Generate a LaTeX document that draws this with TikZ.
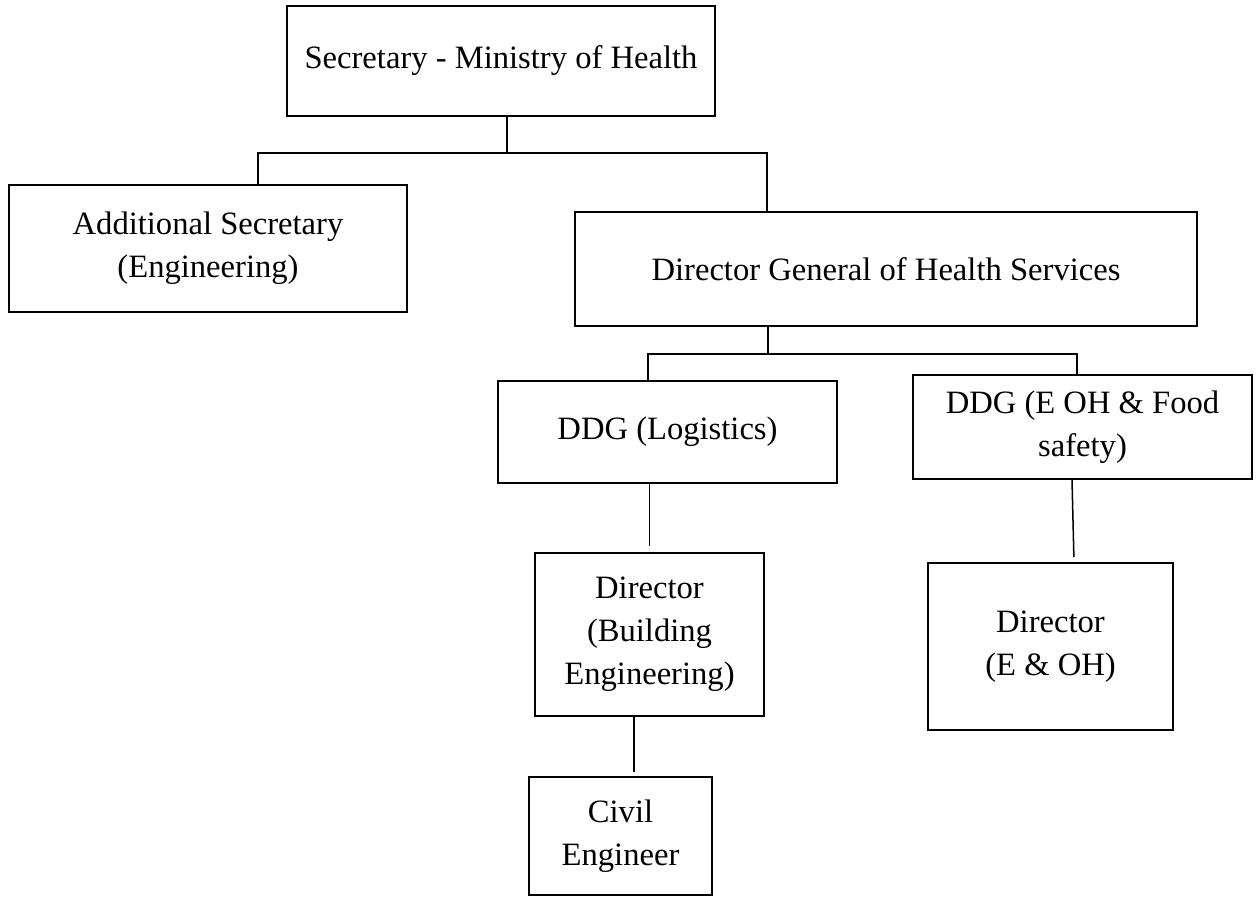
\documentclass[tikz,border=0pt]{standalone}
\usepackage{fontspec}
\setmainfont{Liberation Serif}

\begin{document}
\begin{tikzpicture}[x=0.5pt,y=-0.5pt,post/.style={draw, line width=1pt, align=center, inner sep=0pt, font=\fontsize{16.3}{21.5}\selectfont},link/.style={line width=0.75pt}]
    \useasboundingbox (0,0) rectangle (1258,897);
    \node [post, minimum width=214pt, minimum height=55pt] (sec) at (501,61) {Secretary - Ministry of Health};
    \node [post, minimum width=199pt, minimum height=63.5pt] (addl) at (208,248.5) {Additional Secretary\\(Engineering)};
    \node [post, minimum width=311pt, minimum height=57pt] (dg) at (886,269) {Director General of Health Services};
    \node [post, minimum width=169.5pt, minimum height=51pt] (ddgl) at (667.5,432) {DDG (Logistics)};
    \node [post, minimum width=169.5pt, minimum height=52pt] (ddge) at (1082.5,427) {DDG (E OH \& Food\\safety)};
    \node [post, minimum width=114.5pt, minimum height=81.5pt] (dirb) at (649.5,634.5) {Director\\(Building\\Engineering)};
    \node [post, minimum width=122.5pt, minimum height=83.5pt] (dire) at (1050.5,646.5) {Director\\(E \& OH)};
    \node [post, minimum width=91.5pt, minimum height=59pt] (civ) at (620.5,836) {Civil\\Engineer};
    \coordinate (bus1) at (507,153);
    \coordinate (bus2) at (768,354);
    \draw[link] (sec.south -| bus1) -- (bus1);
    \draw[link] ([xshift=25pt]addl.north) |- (bus1) -| ([xshift=-59.5pt]dg.north);
    \draw[link] (dg.south -| bus2) -- (bus2);
    \draw[link] ([xshift=-9.75pt]ddgl.north) |- (bus2) -| ([xshift=-2.75pt]ddge.north);
    \draw[link, shorten >=3pt] (ddgl.south -| dirb.north) -- (dirb.north);
    \draw[link, shorten >=2.5pt] ([xshift=-5.25pt]ddge.south) -- ([xshift=11.75pt]dire.north);
    \draw[link, shorten >=2pt] ([xshift=-7.75pt]dirb.south) -- ([xshift=6.75pt]civ.north);
\end{tikzpicture}
\end{document}
